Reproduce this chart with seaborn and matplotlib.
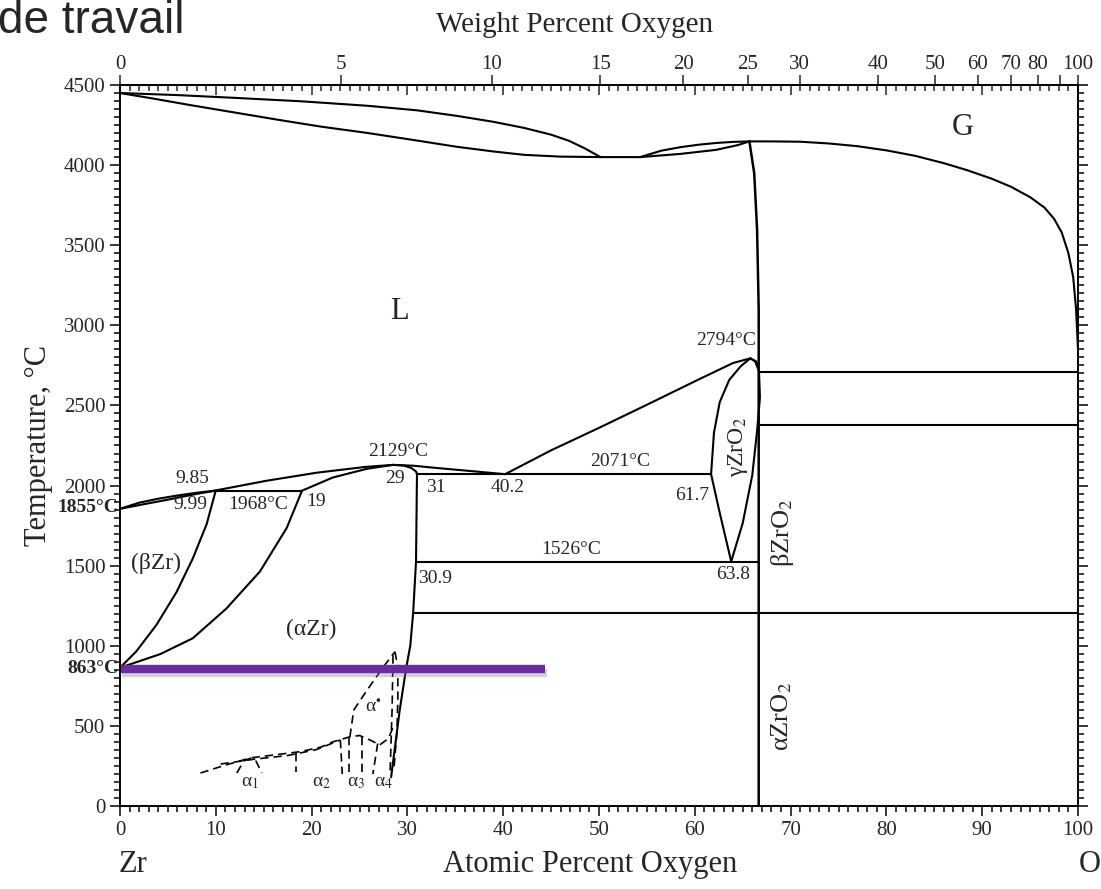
import matplotlib
matplotlib.use('Agg')
import matplotlib.pyplot as plt
import matplotlib.patheffects as pe
import matplotlib.transforms as mtransforms
import seaborn as sns

# ---- data (x = at.% O, y = deg C) ----
# liquid + gas lens from pure Zr
lg_upper_x = [0, 6, 11.9, 19, 25.9, 31, 35.2, 39, 42.2, 45, 46.9, 48.5, 50.1]
lg_upper_t = [4450, 4437, 4420, 4398, 4370, 4342, 4307, 4270, 4232, 4190, 4151, 4105, 4052]
lg_lower_x = [0, 3.5, 7.2, 12, 16.6, 21, 25.9, 30.5, 35.2, 39, 42.2, 46, 50.1, 54.3]
lg_lower_t = [4450, 4415, 4376, 4328, 4282, 4240, 4200, 4158, 4114, 4085, 4064, 4053, 4050, 4050]
# second small lens up to ZrO2
lens2_upper_x = [54.3, 56.5, 58.5, 60.5, 62.2, 64, 65.7]
lens2_upper_t = [4050, 4090, 4112, 4128, 4138, 4145, 4148]
lens2_lower_x = [54.3, 58.5, 62.2, 64.5, 65.7]
lens2_lower_t = [4050, 4070, 4095, 4125, 4148]
# gas boundary towards pure O
gas_x = [65.7, 68, 71, 74, 77, 80, 83, 86, 88.5, 91, 93, 95, 96.5, 97.5, 98.3,
         99, 99.5, 99.8, 100]
gas_t = [4148, 4148, 4146, 4135, 4118, 4092, 4058, 4012, 3967, 3915, 3865, 3800,
         3735, 3665, 3580, 3450, 3300, 3100, 2850]
# ZrO2 line
zro2_x = [65.7, 66.2, 66.5, 66.67, 66.67]
zro2_t = [4148, 3950, 3600, 3100, 0]

# liquidus / solidus on the Zr side
liq_beta_x = [0, 2, 4, 6, 8, 9.85]
liq_beta_t = [1855, 1893, 1918, 1938, 1955, 1968]
sol_beta_x = [0, 2, 5, 8, 9.99]
sol_beta_t = [1855, 1878, 1912, 1948, 1968]
liq_alpha_x = [9.85, 15.3, 20.5, 25.7, 28.5, 30.6, 33, 35.8, 38, 40.2]
liq_alpha_t = [1968, 2030, 2080, 2117, 2129, 2124, 2110, 2095, 2083, 2071]
liq_oxide_x = [40.2, 45, 50, 55.3, 60.5, 64, 65.8, 66.4, 66.67]
liq_oxide_t = [2071, 2220, 2360, 2513, 2665, 2765, 2794, 2775, 2740]
sol_alpha_x = [19, 22.2, 25.8, 28.5, 29.6, 30.4, 30.9, 31.0]
sol_alpha_t = [1968, 2050, 2105, 2129, 2125, 2110, 2088, 2071]
solvus_alpha_x = [31.0, 30.9, 30.6, 30.3, 29.9, 29.2, 28.6, 28.3]
solvus_alpha_t = [2071, 1526, 1205, 1000, 870, 600, 320, 180]
beta_solvus_x = [9.99, 9.05, 7.6, 5.9, 3.8, 1.7, 0]
beta_solvus_t = [1968, 1760, 1545, 1335, 1130, 965, 863]
alpha_beta_x = [19, 17.4, 14.6, 11.1, 7.6, 4.2, 0]
alpha_beta_t = [1968, 1735, 1463, 1232, 1047, 948, 863]
# gamma-ZrO2 lens
gamma_left_x = [65.8, 64.8, 63.6, 62.6, 62.0, 61.7, 62.6, 63.8]
gamma_left_t = [2794, 2745, 2660, 2520, 2330, 2071, 1830, 1526]
gamma_right_x = [63.8, 65.0, 66.0, 66.5, 66.8, 66.7, 66.3, 65.8]
gamma_right_t = [1526, 1765, 2065, 2340, 2550, 2715, 2775, 2794]

# isotherms: (temperature, x start, x end)
iso_t = [1968, 2071, 1526, 1205, 2377, 2710]
iso_x0 = [9.99, 31.0, 30.9, 30.6, 66.67, 66.67]
iso_x1 = [19, 61.7, 66.67, 100, 100, 100]

# dashed low-temperature ordered phases
dash_lines = [
    ([8.4, 11, 13.6, 16, 18.8, 21, 22.2, 24.0, 25.0, 26.1, 27.1, 28.0, 28.5],
     [206, 255, 300, 318, 339, 368, 400, 432, 440, 412, 381, 420, 490]),
    ([10.5, 14, 17.5, 20.5, 23.0], [262, 292, 315, 352, 412]),
    ([24.0, 24.4, 25.8, 27.5, 28.7], [432, 599, 724, 869, 963]),
    ([28.7, 29.0, 29.0, 28.9, 28.6], [963, 869, 662, 455, 237]),
    ([28.5, 28.4, 28.2], [940, 600, 220]),
    ([12.2, 12.9, 13.6, 14.2, 14.8], [206, 280, 298, 280, 206]),
    ([18.4, 18.4], [330, 215]),
    ([23.0, 23.2], [412, 200]),
    ([23.9, 23.9], [432, 200]),
    ([25.3, 25.3], [432, 200]),
    ([26.9, 26.4], [390, 200]),
]

# purple marker line
marker_x = [0, 44.4]
marker_t = [853, 853]

# labels: (text, x, T, rotation, size)
labels = [
    ('L', 29.2, 3084, 0, 22), ('G', 88.0, 4232, 0, 22),
    ('2794°C', 63.3, 2905, 0, 14), ('2129°C', 29.0, 2212, 0, 14),
    ('29', 28.7, 2041, 0, 14), ('31', 33.0, 1985, 0, 14),
    ('40.2', 40.5, 1985, 0, 14), ('2071°C', 52.2, 2149, 0, 14),
    ('61.7', 59.7, 1941, 0, 14), ('1526°C', 47.1, 1598, 0, 14),
    ('30.9', 32.9, 1423, 0, 14), ('63.8', 64.0, 1442, 0, 14),
    ('9.85', 7.6, 2047, 0, 14), ('9.99', 7.3, 1879, 0, 14),
    ('1968°C', 14.4, 1879, 0, 14), ('19', 20.5, 1898, 0, 14),
    ('(βZr)', 3.8, 1517, 0, 17), ('(αZr)', 20.0, 1105, 0, 17),
    ('γZrO$_2$', 64.5, 2243, 90, 17), ('βZrO$_2$', 69.2, 1704, 90, 19),
    ('αZrO$_2$', 69.1, 557, 90, 19),
    ('α$^{\\bullet}$', 26.4, 612, 0, 14),
    ('α$_1$', 13.6, 145, 0, 14), ('α$_2$', 21.0, 145, 0, 14),
    ('α$_3$', 24.7, 145, 0, 14), ('α$_4$', 27.5, 145, 0, 14),
]

top_wt_ticks = [0, 5, 10, 15, 20, 25, 30, 40, 50, 60, 70, 80, 90, 100]
top_wt_labels = ['0', '5', '10', '15', '20', '25', '30', '40', '50', '60', '70', '80', '', '100']

M_ZR, M_O = 91.224, 15.999


def at_to_wt(x):
    return 100 * M_O * x / (M_O * x + M_ZR * (100 - x))


def wt_to_at(w):
    return 100 * (w / M_O) / (w / M_O + (100 - w) / M_ZR)


sns.set_theme(style='ticks')
plt.rcParams['font.family'] = ['Liberation Serif', 'DejaVu Serif']
plt.rcParams['mathtext.fontset'] = 'stix'

fig = plt.figure(figsize=(11.01, 8.89), dpi=100)
ax = fig.add_axes([120 / 1101, 83 / 889, 958 / 1101, 721 / 889])


def curve(xs, ys, ls='-', lw=1.5):
    sns.lineplot(x=xs, y=ys, sort=False, estimator=None, color='black',
                 linewidth=lw, linestyle=ls, ax=ax)


curve(lg_upper_x, lg_upper_t)
curve(lg_lower_x, lg_lower_t)
curve(lens2_upper_x, lens2_upper_t)
curve(lens2_lower_x, lens2_lower_t)
curve(gas_x, gas_t)
curve(zro2_x, zro2_t, lw=1.8)
curve(liq_beta_x, liq_beta_t)
curve(sol_beta_x, sol_beta_t)
curve(liq_alpha_x, liq_alpha_t)
curve(liq_oxide_x, liq_oxide_t)
curve(sol_alpha_x, sol_alpha_t)
curve(solvus_alpha_x, solvus_alpha_t)
curve(beta_solvus_x, beta_solvus_t)
curve(alpha_beta_x, alpha_beta_t)
curve(gamma_left_x, gamma_left_t)
curve(gamma_right_x, gamma_right_t)
for t, x0, x1 in zip(iso_t, iso_x0, iso_x1):
    curve([x0, x1], [t, t])
for xs, ys in dash_lines:
    curve(xs, ys, ls=(0, (5, 3)), lw=1.2)

sns.lineplot(x=marker_x, y=marker_t, color='#6a2c9f', linewidth=6, ax=ax,
             solid_capstyle='butt',
             path_effects=[pe.SimpleLineShadow(offset=(1.5, -3), shadow_color='gray', alpha=0.35),
                           pe.Normal()])

for txt, x, t, rot, fs in labels:
    ax.text(x, t, txt, ha='center', va='center', rotation=rot, fontsize=fs)

ax.set_xlim(0, 100)
ax.set_ylim(0, 4500)
ax.set_xticks(range(0, 101, 10))
ax.set_xticks(range(0, 101, 1), minor=True)
ax.set_yticks(range(0, 4501, 500))
ax.set_yticks(range(0, 4501, 50), minor=True)
ax.tick_params(which='both', direction='out', right=True, top=False, labelsize=15,
               width=1.1, color='black')
ax.tick_params(which='major', length=7)
ax.tick_params(which='minor', length=4)
for s in ax.spines.values():
    s.set_color('black')
    s.set_linewidth(1.4)
ax.set_xlabel('')
ax.set_ylabel('Temperature, °C', fontsize=22, labelpad=8)

# extra bold temperature marks on the left
trans = mtransforms.blended_transform_factory(ax.transAxes, ax.transData)
ax.text(-0.002, 1865, '1855°C', transform=trans, ha='right', va='center',
        fontsize=14, fontweight='bold')
ax.text(-0.002, 858, '863°C', transform=trans, ha='right', va='center',
        fontsize=14, fontweight='bold')

# top: atomic percent ticks inward, weight percent ticks outward with labels
top_at = ax.secondary_xaxis('top')
top_at.set_xticks(range(0, 101, 10))
top_at.set_xticks(range(0, 101, 1), minor=True)
top_at.tick_params(which='both', direction='in', labeltop=False, width=1.1)
top_at.tick_params(which='major', length=7)
top_at.tick_params(which='minor', length=4)

top_wt = ax.secondary_xaxis('top', functions=(at_to_wt, wt_to_at))
top_wt.set_xticks(top_wt_ticks)
top_wt.set_xticklabels(top_wt_labels)
top_wt.xaxis.set_minor_locator(matplotlib.ticker.NullLocator())
top_wt.tick_params(direction='out', length=7, width=1.1, labelsize=15, pad=1)

fig.text(0.522, 0.972, 'Weight Percent Oxygen', ha='center', va='center', fontsize=21)
fig.text(0.536, 0.027, 'Atomic Percent Oxygen', ha='center', va='center', fontsize=22)
fig.text(0.121, 0.027, 'Zr', ha='center', va='center', fontsize=22)
fig.text(0.99, 0.027, 'O', ha='center', va='center', fontsize=22)
fig.text(0.168, 1 - 33 / 889, 'de travail', ha='right', va='baseline', fontsize=33,
         family=['Liberation Sans', 'DejaVu Sans'])

fig.savefig('out.png', dpi=100)
